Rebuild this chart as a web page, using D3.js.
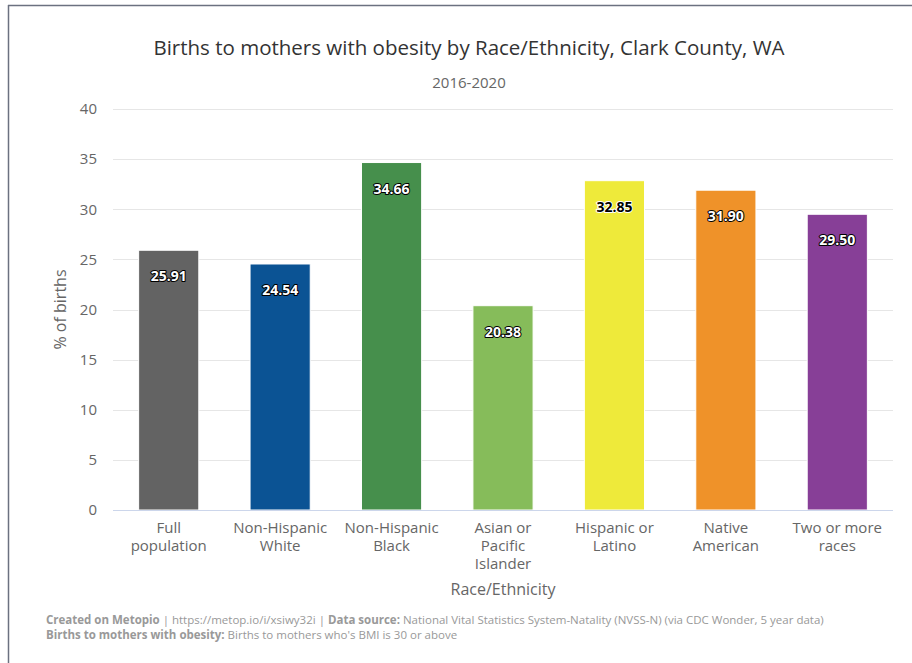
<!DOCTYPE html>
<html>
<head>
<meta charset="utf-8">
<script src="https://cdn.jsdelivr.net/npm/d3@7"></script>
<style>
  body { margin: 0; background: #fff; }
  svg { display: block; font-family: "Open Sans", sans-serif; }
</style>
</head>
<body>
<svg id="chart" width="912" height="663"></svg>
<script>
var categories = [
    ["Full", "population"],
    ["Non-Hispanic", "White"],
    ["Non-Hispanic", "Black"],
    ["Asian or", "Pacific", "Islander"],
    ["Hispanic or", "Latino"],
    ["Native", "American"],
    ["Two or more", "races"]
];
var values = [25.91, 24.54, 34.66, 20.38, 32.85, 31.90, 29.50];
var colors = ["#636363", "#0b5394", "#468f4c", "#86bc5a", "#eeea3a", "#ef9229", "#873f97"];
var yTicks = [0, 5, 10, 15, 20, 25, 30, 35, 40];

var svg = d3.select('#chart');
var margin = {left: 113, right: 19, top: 109, bottom: 153};
var width = 912 - margin.left - margin.right,
    height = 663 - margin.top - margin.bottom;

// card frame (top + left edges only)
svg.append('line').attr('x1', 8).attr('x2', 912).attr('y1', 5.5).attr('y2', 5.5)
    .attr('stroke', '#6b7180').attr('stroke-width', 1.5);
svg.append('line').attr('x1', 8.5).attr('x2', 8.5).attr('y1', 5).attr('y2', 663)
    .attr('stroke', '#6b7180').attr('stroke-width', 1.5);

var x = d3.scaleBand()
    .domain(d3.range(categories.length))
    .range([0, width])
    .paddingInner(0.46)
    .paddingOuter(0.23);

var y = d3.scaleLinear().domain([0, 40]).range([height, 0]);

var g = svg.append('g').attr('transform', 'translate(' + margin.left + ',' + margin.top + ')');

// grid lines
g.selectAll('.grid').data(yTicks.slice(1)).enter().append('line')
    .attr('class', 'grid')
    .attr('x1', 0).attr('x2', width)
    .attr('y1', function(d) { return Math.round(y(d)) + 0.5; })
    .attr('y2', function(d) { return Math.round(y(d)) + 0.5; })
    .attr('stroke', '#e6e6e6');

// y axis labels
var yAxis = g.append('g').call(d3.axisLeft(y).tickValues(yTicks).tickSize(0).tickPadding(16));
yAxis.select('.domain').remove();
yAxis.selectAll('text').attr('fill', '#666').style('font-size', '15px')
    .style('font-family', '"Open Sans", sans-serif');

// bars
g.selectAll('.bar').data(values).enter().append('rect')
    .attr('class', 'bar')
    .attr('x', function(d, i) { return x(i); })
    .attr('y', function(d) { return y(d); })
    .attr('width', x.bandwidth())
    .attr('height', function(d) { return height - y(d); })
    .attr('fill', function(d, i) { return colors[i]; })
    .attr('stroke', '#fff').attr('stroke-width', 1);

// baseline
g.append('line').attr('x1', 0).attr('x2', width)
    .attr('y1', height + 0.5).attr('y2', height + 0.5)
    .attr('stroke', '#ccd6eb');

// value labels (dark text on the yellow bar, white elsewhere)
var labelFmt = d3.format('.2f');
g.selectAll('.val').data(values).enter().append('text')
    .attr('class', 'val')
    .attr('x', function(d, i) { return x(i) + x.bandwidth() / 2; })
    .attr('y', function(d) { return y(d) + 31; })
    .attr('text-anchor', 'middle')
    .style('font-size', '14px').style('font-weight', 'bold')
    .attr('fill', function(d, i) { return i === 4 ? '#000' : '#fff'; })
    .attr('stroke', function(d, i) { return i === 4 ? '#fff' : '#000'; })
    .attr('stroke-width', 2).attr('stroke-linejoin', 'round')
    .attr('paint-order', 'stroke')
    .text(labelFmt);

// category labels
var cat = g.selectAll('.cat').data(categories).enter().append('text')
    .attr('class', 'cat')
    .attr('x', function(d, i) { return x(i) + x.bandwidth() / 2; })
    .attr('y', height + 23)
    .attr('text-anchor', 'middle')
    .attr('fill', '#666')
    .style('font-size', '15px');
cat.selectAll('tspan').data(function(d) { return d; }).enter().append('tspan')
    .attr('x', function() { return d3.select(this.parentNode).attr('x'); })
    .attr('dy', function(d, i) { return i === 0 ? 0 : 18; })
    .text(function(d) { return d; });

// axis titles
svg.append('text').attr('x', margin.left + width / 2).attr('y', 595)
    .attr('text-anchor', 'middle').attr('fill', '#666').style('font-size', '16px')
    .text('Race/Ethnicity');
svg.append('text')
    .attr('transform', 'translate(66,' + (margin.top + height / 2) + ') rotate(-90)')
    .attr('text-anchor', 'middle').attr('fill', '#666').style('font-size', '16px')
    .text('% of births');

// title + subtitle
svg.append('text').attr('x', 469).attr('y', 55)
    .attr('text-anchor', 'middle').attr('fill', '#333').style('font-size', '20.5px')
    .text('Births to mothers with obesity by Race/Ethnicity, Clark County, WA');
svg.append('text').attr('x', 469).attr('y', 88)
    .attr('text-anchor', 'middle').attr('fill', '#666').style('font-size', '15px')
    .text('2016-2020');

// credits
var c1 = svg.append('text').attr('x', 46).attr('y', 624).attr('fill', '#999').style('font-size', '11.5px');
c1.append('tspan').style('font-weight', 'bold').text('Created on Metopio');
c1.append('tspan').text(' | https://metop.io/i/xsiwy32i | ');
c1.append('tspan').style('font-weight', 'bold').text('Data source:');
c1.append('tspan').text(' National Vital Statistics System-Natality (NVSS-N) (via CDC Wonder, 5 year data)');
var c2 = svg.append('text').attr('x', 46).attr('y', 639).attr('fill', '#999').style('font-size', '11.5px');
c2.append('tspan').style('font-weight', 'bold').text('Births to mothers with obesity:');
c2.append('tspan').text(" Births to mothers who's BMI is 30 or above");
</script>
</body>
</html>
